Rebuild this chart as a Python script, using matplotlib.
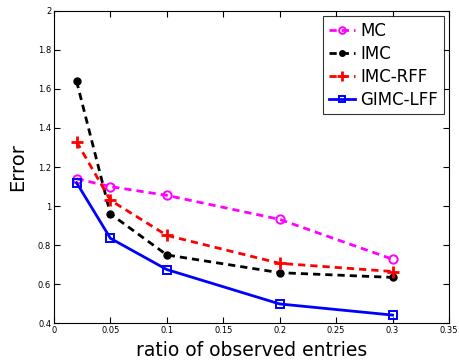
import matplotlib
matplotlib.use("Agg")
import matplotlib.pyplot as plt

x = [0.02, 0.05, 0.1, 0.2, 0.3]
mc = [1.14, 1.10, 1.055, 0.932, 0.728]
imc = [1.64, 0.96, 0.75, 0.659, 0.635]
imc_rff = [1.33, 1.03, 0.85, 0.707, 0.665]
gimc_lff = [1.12, 0.835, 0.675, 0.499, 0.442]
labels = ["MC", "IMC", "IMC-RFF", "GIMC-LFF"]

fig = plt.figure(figsize=(4.59, 3.6), dpi=100)
ax = fig.add_axes([0.1176, 0.102, 0.9782 - 0.1176, 0.970 - 0.102])

dash = (0, (2.6, 1.8))
lw = 2.0
ax.plot(x, mc, color="#ff00ff", ls=dash, lw=lw, marker="o", mfc="none", mec="#ff00ff", ms=6, mew=1.4, label=labels[0])
ax.plot(x, imc, color="black", ls=dash, lw=lw, marker="o", mfc="black", ms=5, label=labels[1])
ax.plot(x, imc_rff, color="red", ls=dash, lw=lw, marker="+", ms=9, mew=2, label=labels[2])
ax.plot(x, gimc_lff, color="blue", ls="-", lw=lw, marker="s", mfc="none", mec="blue", ms=5.5, mew=1.4, label=labels[3])

ax.set_xlim(0, 0.35)
ax.set_ylim(0.4, 2.0)
ax.set_xticks([0, 0.05, 0.1, 0.15, 0.2, 0.25, 0.3, 0.35])
ax.set_xticklabels(["0", "0.05", "0.1", "0.15", "0.2", "0.25", "0.3", "0.35"])
ax.set_yticks([0.4, 0.6, 0.8, 1.0, 1.2, 1.4, 1.6, 1.8, 2.0])
ax.set_yticklabels(["0.4", "0.6", "0.8", "1", "1.2", "1.4", "1.6", "1.8", "2"])
ax.tick_params(direction="in", top=True, right=True, labelsize=6, length=4, width=0.8, pad=2)
for s in ax.spines.values():
    s.set_linewidth(0.8)

ax.set_xlabel("ratio of observed entries", fontsize=13.5, labelpad=4)
ax.set_ylabel("Error", fontsize=14, labelpad=8)

leg = ax.legend(loc="upper right", fontsize=12, frameon=True, fancybox=False, edgecolor="black",
                borderaxespad=0.3, handlelength=1.6, handletextpad=0.3, labelspacing=0.3, borderpad=0.35,
                markerscale=0.8)
leg.get_frame().set_linewidth(0.8)

fig.savefig("out.png", dpi=100)
